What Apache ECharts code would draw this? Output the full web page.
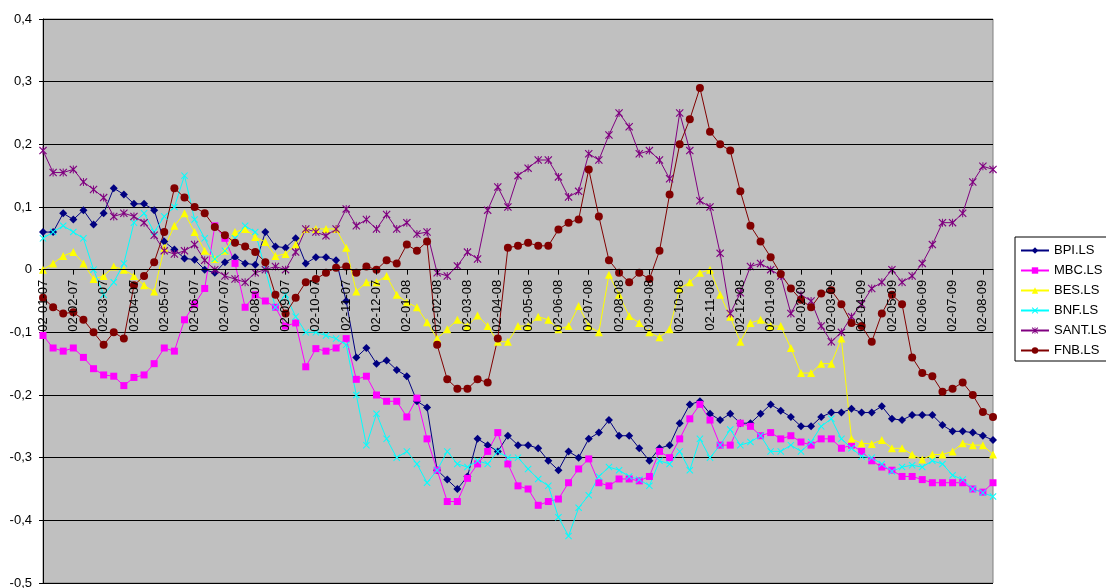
<!DOCTYPE html>
<html>
<head>
<meta charset="utf-8">
<script src="https://cdn.jsdelivr.net/npm/echarts@6/dist/echarts.min.js"></script>
<style>
  html, body { margin: 0; padding: 0; background: #fff; }
  #chart { width: 1106px; height: 588px; }
</style>
</head>
<body>
<div id="chart"></div>
<script>
// month labels on the x axis (one every 3 samples)
const tickLabels = ['02-01-07', '02-02-07', '02-03-07', '02-04-07', '02-05-07', '02-06-07', '02-07-07', '02-08-07',
  '02-09-07', '02-10-07', '02-11-07', '02-12-07', '02-01-08', '02-02-08', '02-03-08', '02-04-08',
  '02-05-08', '02-06-08', '02-07-08', '02-08-08', '02-09-08', '02-10-08', '02-11-08', '02-12-08',
  '02-01-09', '02-02-09', '02-03-09', '02-04-09', '02-05-09', '02-06-09', '02-07-09', '02-08-09']

// values, about three per month
const bpi = [0.06, 0.06, 0.09, 0.08, 0.095, 0.072, 0.09, 0.13, 0.12, 0.105, 0.105, 0.095, 0.045, 0.032, 0.018, 0.016,
  0.0, -0.005, 0.012, 0.02, 0.01, 0.008, 0.06, 0.037, 0.035, 0.05, 0.01, 0.02, 0.02, 0.015, -0.05, -0.14,
  -0.125, -0.15, -0.145, -0.16, -0.17, -0.21, -0.22, -0.32, -0.335, -0.35, -0.33, -0.27, -0.28, -0.29, -0.265, -0.28,
  -0.28, -0.285, -0.305, -0.32, -0.29, -0.3, -0.27, -0.26, -0.24, -0.265, -0.265, -0.285, -0.305, -0.285, -0.28, -0.245,
  -0.215, -0.21, -0.23, -0.24, -0.23, -0.245, -0.245, -0.23, -0.215, -0.225, -0.235, -0.25, -0.25, -0.235, -0.228, -0.228,
  -0.222, -0.228, -0.228, -0.218, -0.238, -0.24, -0.232, -0.232, -0.232, -0.248, -0.258, -0.258, -0.26, -0.265, -0.272]

const mbc = [-0.105, -0.125, -0.13, -0.125, -0.14, -0.158, -0.168, -0.17, -0.185, -0.172, -0.168, -0.15, -0.125, -0.13, -0.08, -0.055,
  -0.03, 0.07, 0.05, 0.01, -0.06, -0.04, -0.05, -0.06, -0.09, -0.085, -0.155, -0.126, -0.13, -0.125, -0.11, -0.175,
  -0.17, -0.2, -0.21, -0.21, -0.235, -0.205, -0.27, -0.32, -0.37, -0.37, -0.333, -0.31, -0.29, -0.26, -0.31, -0.345,
  -0.35, -0.376, -0.37, -0.366, -0.34, -0.318, -0.302, -0.34, -0.345, -0.334, -0.334, -0.337, -0.33, -0.29, -0.3, -0.27,
  -0.238, -0.215, -0.24, -0.28, -0.28, -0.245, -0.25, -0.265, -0.26, -0.27, -0.265, -0.275, -0.28, -0.27, -0.27, -0.285,
  -0.28, -0.29, -0.305, -0.315, -0.32, -0.33, -0.33, -0.335, -0.34, -0.34, -0.34, -0.34, -0.35, -0.355, -0.34]

const bes = [0.0, 0.01, 0.022, 0.028, 0.01, -0.015, -0.01, 0.005, 0.0, -0.01, -0.025, -0.035, 0.035, 0.07, 0.09, 0.06,
  0.03, 0.017, 0.03, 0.06, 0.065, 0.052, 0.044, 0.022, 0.025, 0.04, 0.065, 0.065, 0.065, 0.065, 0.035, -0.035,
  -0.02, -0.02, -0.01, -0.04, -0.052, -0.06, -0.084, -0.11, -0.095, -0.08, -0.09, -0.073, -0.09, -0.115, -0.115, -0.09,
  -0.09, -0.075, -0.08, -0.095, -0.09, -0.058, -0.09, -0.1, -0.008, -0.04, -0.074, -0.085, -0.1, -0.108, -0.095, -0.03,
  -0.02, -0.005, 0.0, -0.04, -0.075, -0.115, -0.085, -0.08, -0.09, -0.09, -0.125, -0.165, -0.165, -0.15, -0.15, -0.11,
  -0.27, -0.277, -0.278, -0.272, -0.285, -0.285, -0.295, -0.303, -0.295, -0.295, -0.29, -0.277, -0.28, -0.28, -0.295]

const bnf = [0.05, 0.06, 0.07, 0.06, 0.05, 0.0, -0.04, -0.02, 0.01, 0.075, 0.09, 0.06, 0.085, 0.1, 0.15, 0.08,
  0.05, 0.017, 0.03, 0.05, 0.07, 0.06, 0.0, -0.06, -0.04, -0.075, -0.1, -0.1, -0.105, -0.11, -0.12, -0.2,
  -0.28, -0.23, -0.27, -0.3, -0.29, -0.31, -0.34, -0.32, -0.29, -0.31, -0.315, -0.305, -0.31, -0.29, -0.3, -0.3,
  -0.318, -0.334, -0.345, -0.395, -0.425, -0.38, -0.36, -0.33, -0.315, -0.32, -0.33, -0.335, -0.345, -0.305, -0.31, -0.29,
  -0.32, -0.27, -0.3, -0.28, -0.255, -0.28, -0.275, -0.265, -0.29, -0.29, -0.28, -0.29, -0.275, -0.25, -0.238, -0.27,
  -0.285, -0.298, -0.3, -0.31, -0.322, -0.315, -0.312, -0.315, -0.305, -0.31, -0.328, -0.335, -0.35, -0.356, -0.362]

const sant = [0.19, 0.155, 0.155, 0.16, 0.14, 0.128, 0.115, 0.085, 0.09, 0.085, 0.075, 0.055, 0.03, 0.025, 0.03, 0.04,
  0.015, 0.0, -0.01, -0.015, -0.02, -0.005, 0.0, 0.005, 0.0, 0.028, 0.065, 0.06, 0.054, 0.065, 0.097, 0.07,
  0.08, 0.065, 0.088, 0.065, 0.075, 0.057, 0.06, -0.005, -0.01, 0.006, 0.028, 0.017, 0.095, 0.132, 0.1, 0.15,
  0.162, 0.175, 0.175, 0.148, 0.116, 0.125, 0.185, 0.175, 0.215, 0.25, 0.228, 0.185, 0.19, 0.175, 0.145, 0.25,
  0.19, 0.11, 0.1, 0.026, -0.07, -0.037, 0.005, 0.01, 0.0, -0.01, -0.07, -0.04, -0.05, -0.09, -0.115, -0.1,
  -0.075, -0.055, -0.03, -0.02, 0.0, -0.02, -0.01, 0.01, 0.04, 0.075, 0.075, 0.09, 0.14, 0.165, 0.16]

const fnb = [-0.045, -0.06, -0.07, -0.068, -0.08, -0.1, -0.12, -0.1, -0.11, -0.025, -0.01, 0.012, 0.06, 0.13, 0.115, 0.1,
  0.09, 0.068, 0.055, 0.043, 0.037, 0.028, 0.012, -0.04, -0.07, -0.045, -0.02, -0.015, -0.005, 0.003, 0.005, -0.005,
  0.005, 0.0, 0.015, 0.01, 0.04, 0.03, 0.045, -0.12, -0.175, -0.19, -0.19, -0.175, -0.18, -0.11, 0.035, 0.038,
  0.043, 0.038, 0.038, 0.064, 0.075, 0.08, 0.16, 0.085, 0.015, -0.005, -0.02, -0.005, -0.015, 0.03, 0.12, 0.2,
  0.24, 0.29, 0.22, 0.2, 0.19, 0.125, 0.07, 0.045, 0.02, -0.007, -0.03, -0.048, -0.06, -0.038, -0.033, -0.055,
  -0.085, -0.09, -0.115, -0.07, -0.04, -0.055, -0.14, -0.165, -0.17, -0.195, -0.19, -0.18, -0.2, -0.227, -0.235]

// one category per sample, the month label on every third one
let categories = []
tickLabels.forEach(t => { categories.push(t, '', '') })
categories = categories.slice(0, bpi.length)

const yMin = -0.5
const yMax = 0.4
const gridTop = 19
const gridBottom = 5
const chartH = 588
// the category axis sits on the y = 0 line, as in the original
const zeroOffset = -(chartH - gridTop - gridBottom) * (0 - yMin) / (yMax - yMin)

const xShape = 'path://M0,1L1,0L5,4L9,0L10,1L6,5L10,9L9,10L5,6L1,10L0,9L4,5Z'
const starShape = 'path://M0,1L1,0L5,4L9,0L10,1L6,5L10,9L9,10L5,6L1,10L0,9L4,5Z M4.4,0L5.6,0L5.6,10L4.4,10Z'
const font = 'Arial, "Liberation Sans", sans-serif'

function line(name, data, color, symbol, size) {
  return {
    name: name,
    type: 'line',
    data: data,
    symbol: symbol,
    symbolSize: size,
    showSymbol: true,
    showAllSymbol: true,
    lineStyle: { color: color, width: 1 },
    itemStyle: { color: color, borderWidth: 0 },
    emphasis: { disabled: true }
  }
}

const myChart = echarts.init(document.getElementById('chart'))
myChart.setOption({
  animation: false,
  textStyle: { fontFamily: font },
  grid: {
    left: 43,
    top: gridTop,
    right: 113,
    bottom: gridBottom,
    containLabel: false,
    outerBoundsMode: 'none',
    show: true,
    backgroundColor: '#c0c0c0',
    borderColor: '#808080',
    borderWidth: 1
  },
  legend: {
    orient: 'vertical',
    left: 1015,
    top: 237,
    padding: [7, 6, 4, 5],
    itemWidth: 28,
    itemHeight: 8,
    itemGap: 7,
    backgroundColor: '#fff',
    borderColor: '#000',
    borderWidth: 1,
    borderRadius: 0,
    textStyle: { fontSize: 13, color: '#000', fontFamily: font },
    data: ['BPI.LS', 'MBC.LS', 'BES.LS', 'BNF.LS', 'SANT.LS', 'FNB.LS']
  },
  xAxis: {
    type: 'category',
    data: categories,
    boundaryGap: false,
    position: 'bottom',
    offset: zeroOffset,
    z: 10,
    axisLine: { onZero: false, lineStyle: { color: '#000', width: 1 } },
    axisTick: {
      show: true,
      length: 5,
      interval: (i) => i % 3 === 0,
      lineStyle: { color: '#000' }
    },
    axisLabel: {
      rotate: 90,
      margin: 10,
      interval: (i) => i % 3 === 0,
      fontSize: 13,
      color: '#000',
      fontFamily: font
    },
    splitLine: { show: false }
  },
  yAxis: {
    type: 'value',
    min: yMin,
    max: yMax,
    interval: 0.1,
    axisLine: { show: true, onZero: false, lineStyle: { color: '#000' } },
    axisTick: { show: true, length: 4, lineStyle: { color: '#000' } },
    axisLabel: {
      margin: 11,
      fontSize: 13,
      color: '#000',
      fontFamily: font,
      formatter: (v) => String(Math.round(v * 10) / 10).replace('.', ',')
    },
    splitLine: { show: true, lineStyle: { color: '#000', width: 1 } }
  },
  series: [
    line('BPI.LS', bpi, '#000080', 'diamond', 8),
    line('MBC.LS', mbc, '#ff00ff', 'rect', 7),
    line('BES.LS', bes, '#ffff00', 'triangle', 8),
    line('BNF.LS', bnf, '#00ffff', xShape, 7),
    line('SANT.LS', sant, '#800080', starShape, 8),
    line('FNB.LS', fnb, '#800000', 'circle', 8)
  ]
})
</script>
</body>
</html>
